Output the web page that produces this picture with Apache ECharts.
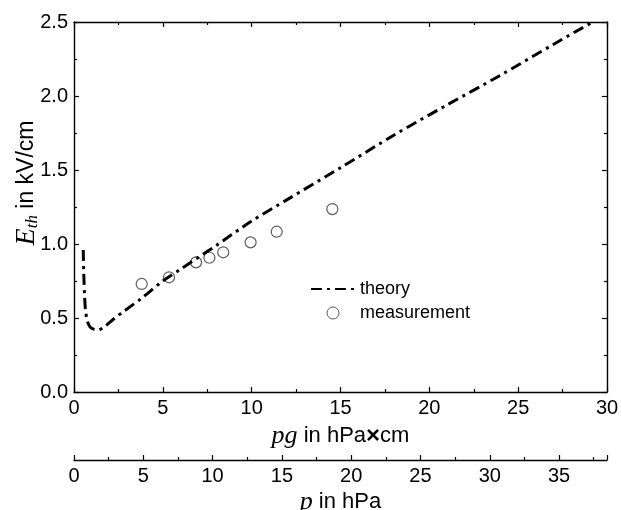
<!DOCTYPE html>
<html>
<head>
<meta charset="utf-8">
<script src="https://cdn.jsdelivr.net/npm/echarts@6/dist/echarts.min.js"></script>
<style>html,body{margin:0;padding:0;background:#fff}#c{width:621px;height:510px}</style>
</head>
<body>
<div id="c"></div>
<script>
// Theory curve (pg in hPa*cm, E_th in kV/cm)
const theoryX = [0.52, 0.55, 0.6, 0.65, 0.75, 0.9, 1.1, 1.35, 1.7, 2.2, 2.8, 3.8, 5, 6, 8, 10, 12, 15, 18, 21, 24, 27, 29.2];
const theoryY = [0.96, 0.80, 0.64, 0.55, 0.48, 0.44, 0.425, 0.42, 0.44, 0.49, 0.545, 0.633, 0.75, 0.83, 0.99, 1.155, 1.30, 1.515, 1.735, 1.94, 2.14, 2.35, 2.5];
// Measurements
const measX = [3.81, 5.35, 6.87, 7.62, 8.40, 9.94, 11.41, 14.54];
const measY = [0.73, 0.775, 0.876, 0.907, 0.944, 1.011, 1.083, 1.236];
// Axis ranges
const pgMax = 30;
const pMax = 38.46;
const yMax = 2.5;

const theory = theoryX.map((x, i) => [x, theoryY[i]]);
const meas = measX.map((x, i) => [x, measY[i]]);

const font = 'Liberation Sans, Arial, sans-serif';
const serif = 'Liberation Serif, Times New Roman, serif';
const axisCommon = {
  nameMoveOverlap: false,
  axisLine: { onZero: false, lineStyle: { color: '#000', width: 1.4 } },
  axisTick: { inside: true, length: 5, lineStyle: { color: '#000', width: 1.2 } },
  minorTick: { show: true, splitNumber: 2, length: 3, lineStyle: { color: '#000', width: 1.2 } },
  splitLine: { show: false },
  axisLabel: { color: '#000', fontSize: 20, fontFamily: font }
};

const chart = echarts.init(document.getElementById('c'), null, { renderer: 'canvas' });
chart.setOption({
  animation: false,
  backgroundColor: '#fff',
  grid: { left: 74, right: 14, top: 22, bottom: 118, containLabel: false, outerBoundsMode: 'none' },
  xAxis: [
    Object.assign({}, axisCommon, {
      type: 'value', position: 'bottom', min: 0, max: pgMax, interval: 5,
      axisLabel: Object.assign({}, axisCommon.axisLabel, { margin: 6 }),
      name: '{i|pg} in hPa{b|×}cm', nameLocation: 'middle', nameGap: 31,
      nameTextStyle: { color: '#000', fontSize: 22, fontFamily: font,
        rich: { i: { fontFamily: serif, fontStyle: 'italic', fontSize: 26, color: '#000' },
                b: { fontSize: 24, fontWeight: 'bold', color: '#000', fontFamily: font } } }
    }),
    Object.assign({}, axisCommon, {
      type: 'value', position: 'bottom', offset: 68, min: 0, max: pMax, interval: 5,
      axisLabel: Object.assign({}, axisCommon.axisLabel, { margin: 6, showMaxLabel: false }),
      name: '{i|p} in hPa', nameLocation: 'middle', nameGap: 29,
      nameTextStyle: { color: '#000', fontSize: 22, fontFamily: font,
        rich: { i: { fontFamily: serif, fontStyle: 'italic', fontSize: 26, color: '#000' } } }
    }),
    Object.assign({}, axisCommon, {
      type: 'value', position: 'top', min: 0, max: pgMax, interval: 5,
      axisLabel: { show: false }
    })
  ],
  yAxis: [
    Object.assign({}, axisCommon, {
      type: 'value', position: 'left', min: 0, max: yMax, interval: 0.5,
      axisLabel: Object.assign({}, axisCommon.axisLabel, { margin: 6, formatter: v => v.toFixed(1) }),
      name: '{i|E}{s|th} in kV/cm', nameLocation: 'middle', nameGap: 33,
      nameTextStyle: { color: '#000', fontSize: 23, fontFamily: font, padding: [0, 0, 0, 48],
        rich: { i: { fontFamily: serif, fontStyle: 'italic', fontSize: 28, color: '#000' },
                s: { fontFamily: serif, fontStyle: 'italic', fontSize: 17, color: '#000', verticalAlign: 'bottom', padding: [10, 0, 0, 0] } } }
    }),
    Object.assign({}, axisCommon, {
      type: 'value', position: 'right', min: 0, max: yMax, interval: 0.5,
      axisLabel: { show: false }
    })
  ],
  legend: {
    orient: 'vertical', left: 305, top: 275,
    itemWidth: 44, itemHeight: 12, itemGap: 6,
    textStyle: { color: '#000', fontSize: 18, fontFamily: font },
    data: [
      { name: 'theory', itemStyle: { opacity: 0 } },
      { name: 'measurement', itemStyle: { borderWidth: 1 } }
    ]
  },
  series: [
    {
      name: 'theory', type: 'line', xAxisIndex: 0, yAxisIndex: 0,
      data: theory, symbol: 'none', smooth: 0.3,
      lineStyle: { color: '#000', width: 3, type: [11, 5, 3, 5] },
      itemStyle: { color: '#000' }
    },
    {
      name: 'measurement', type: 'scatter', xAxisIndex: 0, yAxisIndex: 0,
      data: meas, symbol: 'circle', symbolSize: 11,
      itemStyle: { color: 'transparent', borderColor: '#333', borderWidth: 1.2 }
    }
  ]
});
</script>
</body>
</html>
